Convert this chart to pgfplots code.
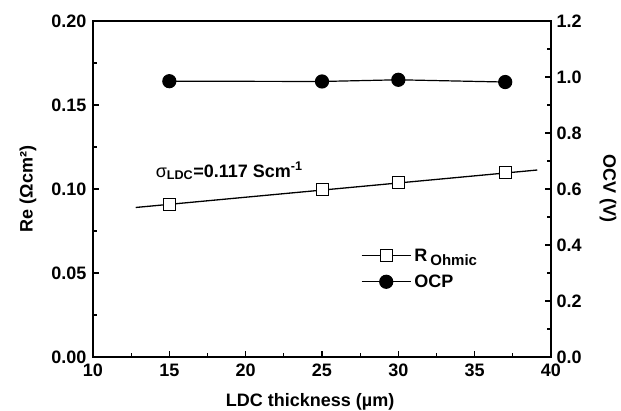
\documentclass[border=0pt]{standalone}
\usepackage{pgfplots}
\pgfplotsset{compat=1.18}
\usepackage{fontspec}
\setmainfont{Liberation Sans}
\begin{document}
\begin{tikzpicture}[x=1pt,y=1pt]
\pgfplotsset{
  common/.style={
    scale only axis, width=458pt, height=336pt,
    xmin=10, xmax=40,
    font=\fontsize{18}{21}\selectfont\bfseries,
    tick label style={font=\fontsize{18}{21}\selectfont\bfseries},
    label style={font=\fontsize{19}{22}\selectfont\bfseries},
    /pgf/number format/assume math mode=true,
    axis line style={line width=1.6pt},
    major tick length=6pt, minor tick length=4pt,
    every tick/.style={black, line width=1.2pt},
    tick align=inside,
  }
}
\begin{axis}[common,
  ymin=0, ymax=0.20,
  xtick={10,15,...,40}, minor x tick num=1,
  ytick={0,0.05,0.10,0.15,0.20}, minor y tick num=1,
  xtick pos=bottom, ytick pos=left,
  yticklabel style={xshift=-3pt, /pgf/number format/.cd, fixed, fixed zerofill, precision=2},
  xticklabel style={yshift=-3.5pt},
  xlabel={LDC thickness (µm)},
  ylabel={Re (Ωcm²)},
  every axis x label/.style={at={(axis description cs:0.474,-0.146)}, anchor=base},
  every axis y label/.style={at={(axis description cs:-0.142,0.5)}, rotate=90, anchor=center},
  clip=false,
]
\addplot[black, line width=1.3pt] coordinates {(12.8,0.0890) (39.1,0.1113)};
\addplot[black, only marks, mark=square*, mark size=6pt, mark options={line width=1pt, fill=white}]
  coordinates {(15,0.0906) (25,0.0995) (30,0.1036) (37,0.1099)};
\node[anchor=base west, font=\fontsize{18}{21}\selectfont\bfseries, inner sep=0pt] at (axis cs:14.1,0.1071)
  {{\mdseries σ}\textsubscript{LDC}=0.117 Scm\textsuperscript{-1}};
\end{axis}
\begin{axis}[common,
  ymin=0, ymax=1.2,
  axis x line=none,
  axis y line*=right,
  ytick={0,0.2,...,1.2}, minor y tick num=1,
  yticklabel style={xshift=2pt, /pgf/number format/.cd, fixed, fixed zerofill, precision=1},
  ylabel={OCV (V)},
  every axis y label/.style={at={(axis description cs:1.1245,0.5)}, rotate=-90, anchor=center},
  legend style={at={(0.585,0.33)}, anchor=north west, draw=none, fill=none,
    font=\fontsize{18}{21}\selectfont\bfseries, row sep=6pt, inner sep=0pt,
    nodes={inner sep=3pt, anchor=base west},
    legend cell align=left},
  legend image code/.code={
    \draw[#1, line width=1.2pt, mark=none] (0pt,6pt) -- (49pt,6pt);
    \draw[#1, line width=1.2pt, only marks] plot coordinates {(24.5pt,6pt)};
  },
]
\addlegendimage{black, mark=square*, mark size=6pt, mark options={line width=1pt, fill=white}}
\addlegendentry{R\,\raisebox{-0.35ex}{\fontsize{15}{17}\selectfont Ohmic}}
\addplot[black, line width=1.2pt, mark=*, mark size=6.5pt]
  coordinates {(15,0.985) (25,0.984) (30,0.990) (37,0.982)};
\addlegendentry{OCP}
\end{axis}
\pgfresetboundingbox
\path[use as bounding box] ([xshift=-93pt,yshift=-54pt]current axis.south west) rectangle ([xshift=70pt,yshift=21pt]current axis.north east);
\end{tikzpicture}
\end{document}
